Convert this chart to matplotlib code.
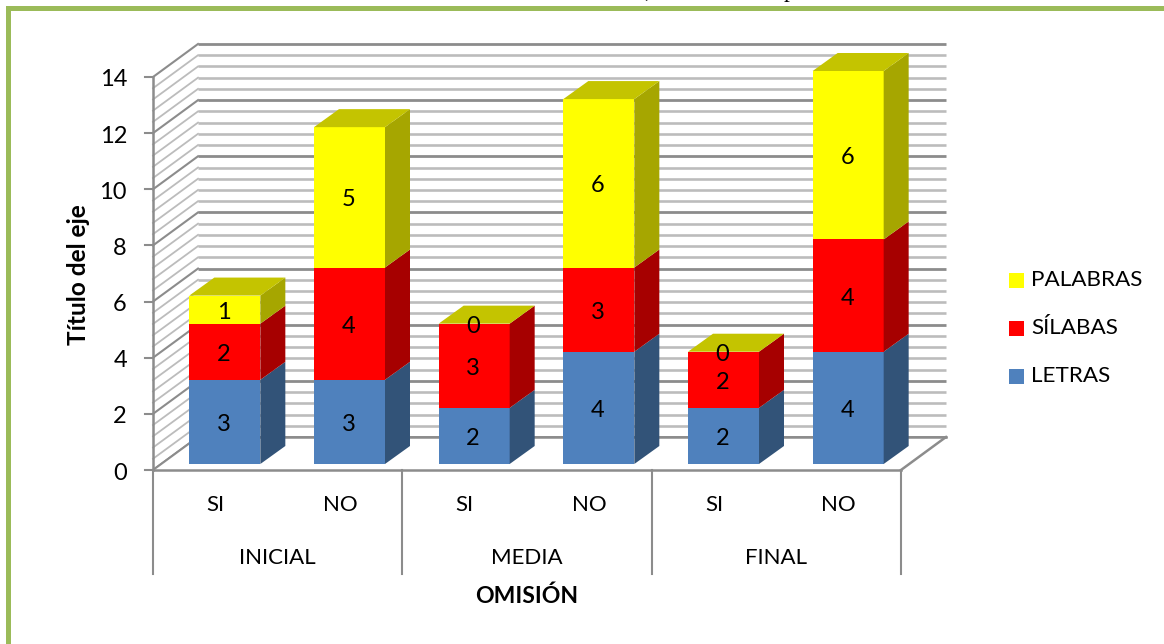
import numpy as np
from matplotlib import pyplot as plt
from matplotlib.patches import Polygon, Rectangle

# data
groups = ['INICIAL', 'MEDIA', 'FINAL']
answers = ['SI', 'NO', 'SI', 'NO', 'SI', 'NO']
letras = [3, 3, 2, 4, 2, 4]
silabas = [2, 4, 3, 3, 2, 4]
palabras = [1, 5, 0, 6, 0, 6]
y_ticks = [0, 2, 4, 6, 8, 10, 12, 14]

W, H = 1164, 644
X0, X1, Y0, Y14 = 153, 901, 470, 77   # front plane of the chart, in pixels

plt.rcParams['font.family'] = ['Lato', 'DejaVu Sans']

fig = plt.figure(figsize=(W/100, H/100), dpi=100)
ax = fig.add_axes([X0/W, 1-Y0/H, (X1-X0)/W, (Y0-Y14)/H])
ax.set_xlim(0, 6)
ax.set_ylim(0, 14)
ax.axis('off')

ux = (X1-X0)/6      # pixels per category
uy = (Y0-Y14)/14    # pixels per unit

# wall depth and bar depth in data units
wall_dx, wall_dy = 45/ux, 33/uy
bar_dx, bar_dy = 25/ux, 18/uy
bar_w = 71/ux
bar_off = 26/ux
bar_lift = 6/uy


def poly(pts, color, z, edge='none', lw=0):
    ax.add_patch(Polygon(pts, closed=True, facecolor=color, edgecolor=edge,
                         linewidth=lw, zorder=z, clip_on=False))


# grid on back and side wall
for v in np.arange(0, 14.01, 0.4):
    major = abs(v/2 - round(v/2)) < 1e-6
    col = '#8c8c8c' if major else '#bcbcbc'
    lw = 2.0 if major else 1.9
    ax.plot([wall_dx, 6+wall_dx], [v+wall_dy, v+wall_dy], color=col, lw=lw,
            zorder=1, clip_on=False, solid_capstyle='butt')
    ax.plot([0, wall_dx], [v, v+wall_dy], color=col, lw=1.5 if major else 1.3,
            zorder=1, clip_on=False)

# floor
poly([(0, 0), (6, 0), (6+wall_dx, wall_dy), (wall_dx, wall_dy)], 'white', 2)
ax.plot([wall_dx, 6+wall_dx], [wall_dy, wall_dy], color='#8c8c8c', lw=1.8, zorder=3, clip_on=False)
ax.plot([6, 6+wall_dx], [0, wall_dy], color='#8c8c8c', lw=1.8, zorder=3, clip_on=False)
ax.plot([0, wall_dx], [0, wall_dy], color='#8c8c8c', lw=1.5, zorder=3, clip_on=False)

# axes lines
ax.plot([0, 6], [0, 0], color='#8c8c8c', lw=1.8, zorder=3, clip_on=False)
ax.plot([0, 0], [0, 14], color='#8c8c8c', lw=1.8, zorder=3, clip_on=False)
for t in y_ticks:
    ax.plot([-8/ux, 0], [t, t], color='#8c8c8c', lw=1.5, zorder=3, clip_on=False)
    ax.text(-26/ux, t-3/uy, str(t), ha='right', va='center', fontsize=17, color='black')
for i in [0, 2, 4, 6]:
    ax.plot([i, i], [0, -104/uy], color='#8c8c8c', lw=1.5, zorder=3, clip_on=False)

# category labels
for i, a in enumerate(answers):
    ax.text(i+0.5, -35/uy, a, ha='center', va='center', fontsize=16)
for i, g in enumerate(groups):
    ax.text(2*i+1, -88/uy, g, ha='center', va='center', fontsize=16)

# stacked 3d bars
series = [
    (letras, '#4F81BD', '#325378', '#3f6797'),
    (silabas, '#FF0000', '#A60000', '#cc0000'),
    (palabras, '#FFFF00', '#A6A600', '#C4C400'),
]
for i in range(6):
    left = i + 0.5 - bar_off
    bottom = bar_lift
    top_col = None
    for vals, front, side, top in series:
        v = vals[i]
        if v > 0:
            ax.add_patch(Rectangle((left, bottom), bar_w, v, facecolor=front,
                                   edgecolor='none', zorder=5, clip_on=False))
            poly([(left+bar_w, bottom), (left+bar_w+bar_dx, bottom+bar_dy),
                  (left+bar_w+bar_dx, bottom+v+bar_dy), (left+bar_w, bottom+v)], side, 5)
        ax.text(left+bar_w/2-1/ux, bottom+v/2-2.5/uy, str(v), ha='center', va='center',
                fontsize=17, zorder=8)
        bottom += v
        top_col = top
    # the lid always takes the colour of the top series, even with a zero value
    poly([(left, bottom), (left+bar_dx, bottom+bar_dy),
          (left+bar_w+bar_dx, bottom+bar_dy), (left+bar_w, bottom)], top_col, 6)

# axis titles
fig.text(527/W, 1-596/H, 'OMISIÓN', ha='center', va='center', fontsize=16.6, fontweight='bold')
fig.text(78/W, 1-275/H, 'Título del eje', ha='center', va='center', rotation=90,
         fontsize=17.6, fontweight='bold')

# legend
leg_names = ['PALABRAS', 'SÍLABAS', 'LETRAS']
leg_cols = ['#FFFF00', '#FF0000', '#4F81BD']
for n, c, y in zip(leg_names, leg_cols, [280, 328, 376]):
    fig.add_artist(Rectangle((1009/W, 1-(y+7.5)/H), 15/W, 15/H, facecolor=c,
                             edgecolor='none', transform=fig.transFigure))
    fig.text(1031/W, 1-y/H, n, ha='left', va='center', fontsize=16.2)

# green frame, open on the right and bottom
fig.add_artist(Rectangle((6/W, 0), 5/W, 1-6/H, facecolor='#9BBB59', edgecolor='none',
                         transform=fig.transFigure))
fig.add_artist(Rectangle((6/W, 1-11/H), 1-6/W, 5/H, facecolor='#9BBB59', edgecolor='none',
                         transform=fig.transFigure))

# bottoms of the cropped heading above the frame
fig.text(644/W, 1+3/H, ',', ha='left', va='baseline', fontsize=17, family='Liberation Serif')
fig.text(784/W, 1+3/H, 'p', ha='left', va='baseline', fontsize=17, family='Liberation Serif')

fig.savefig('out.png', dpi=100)
